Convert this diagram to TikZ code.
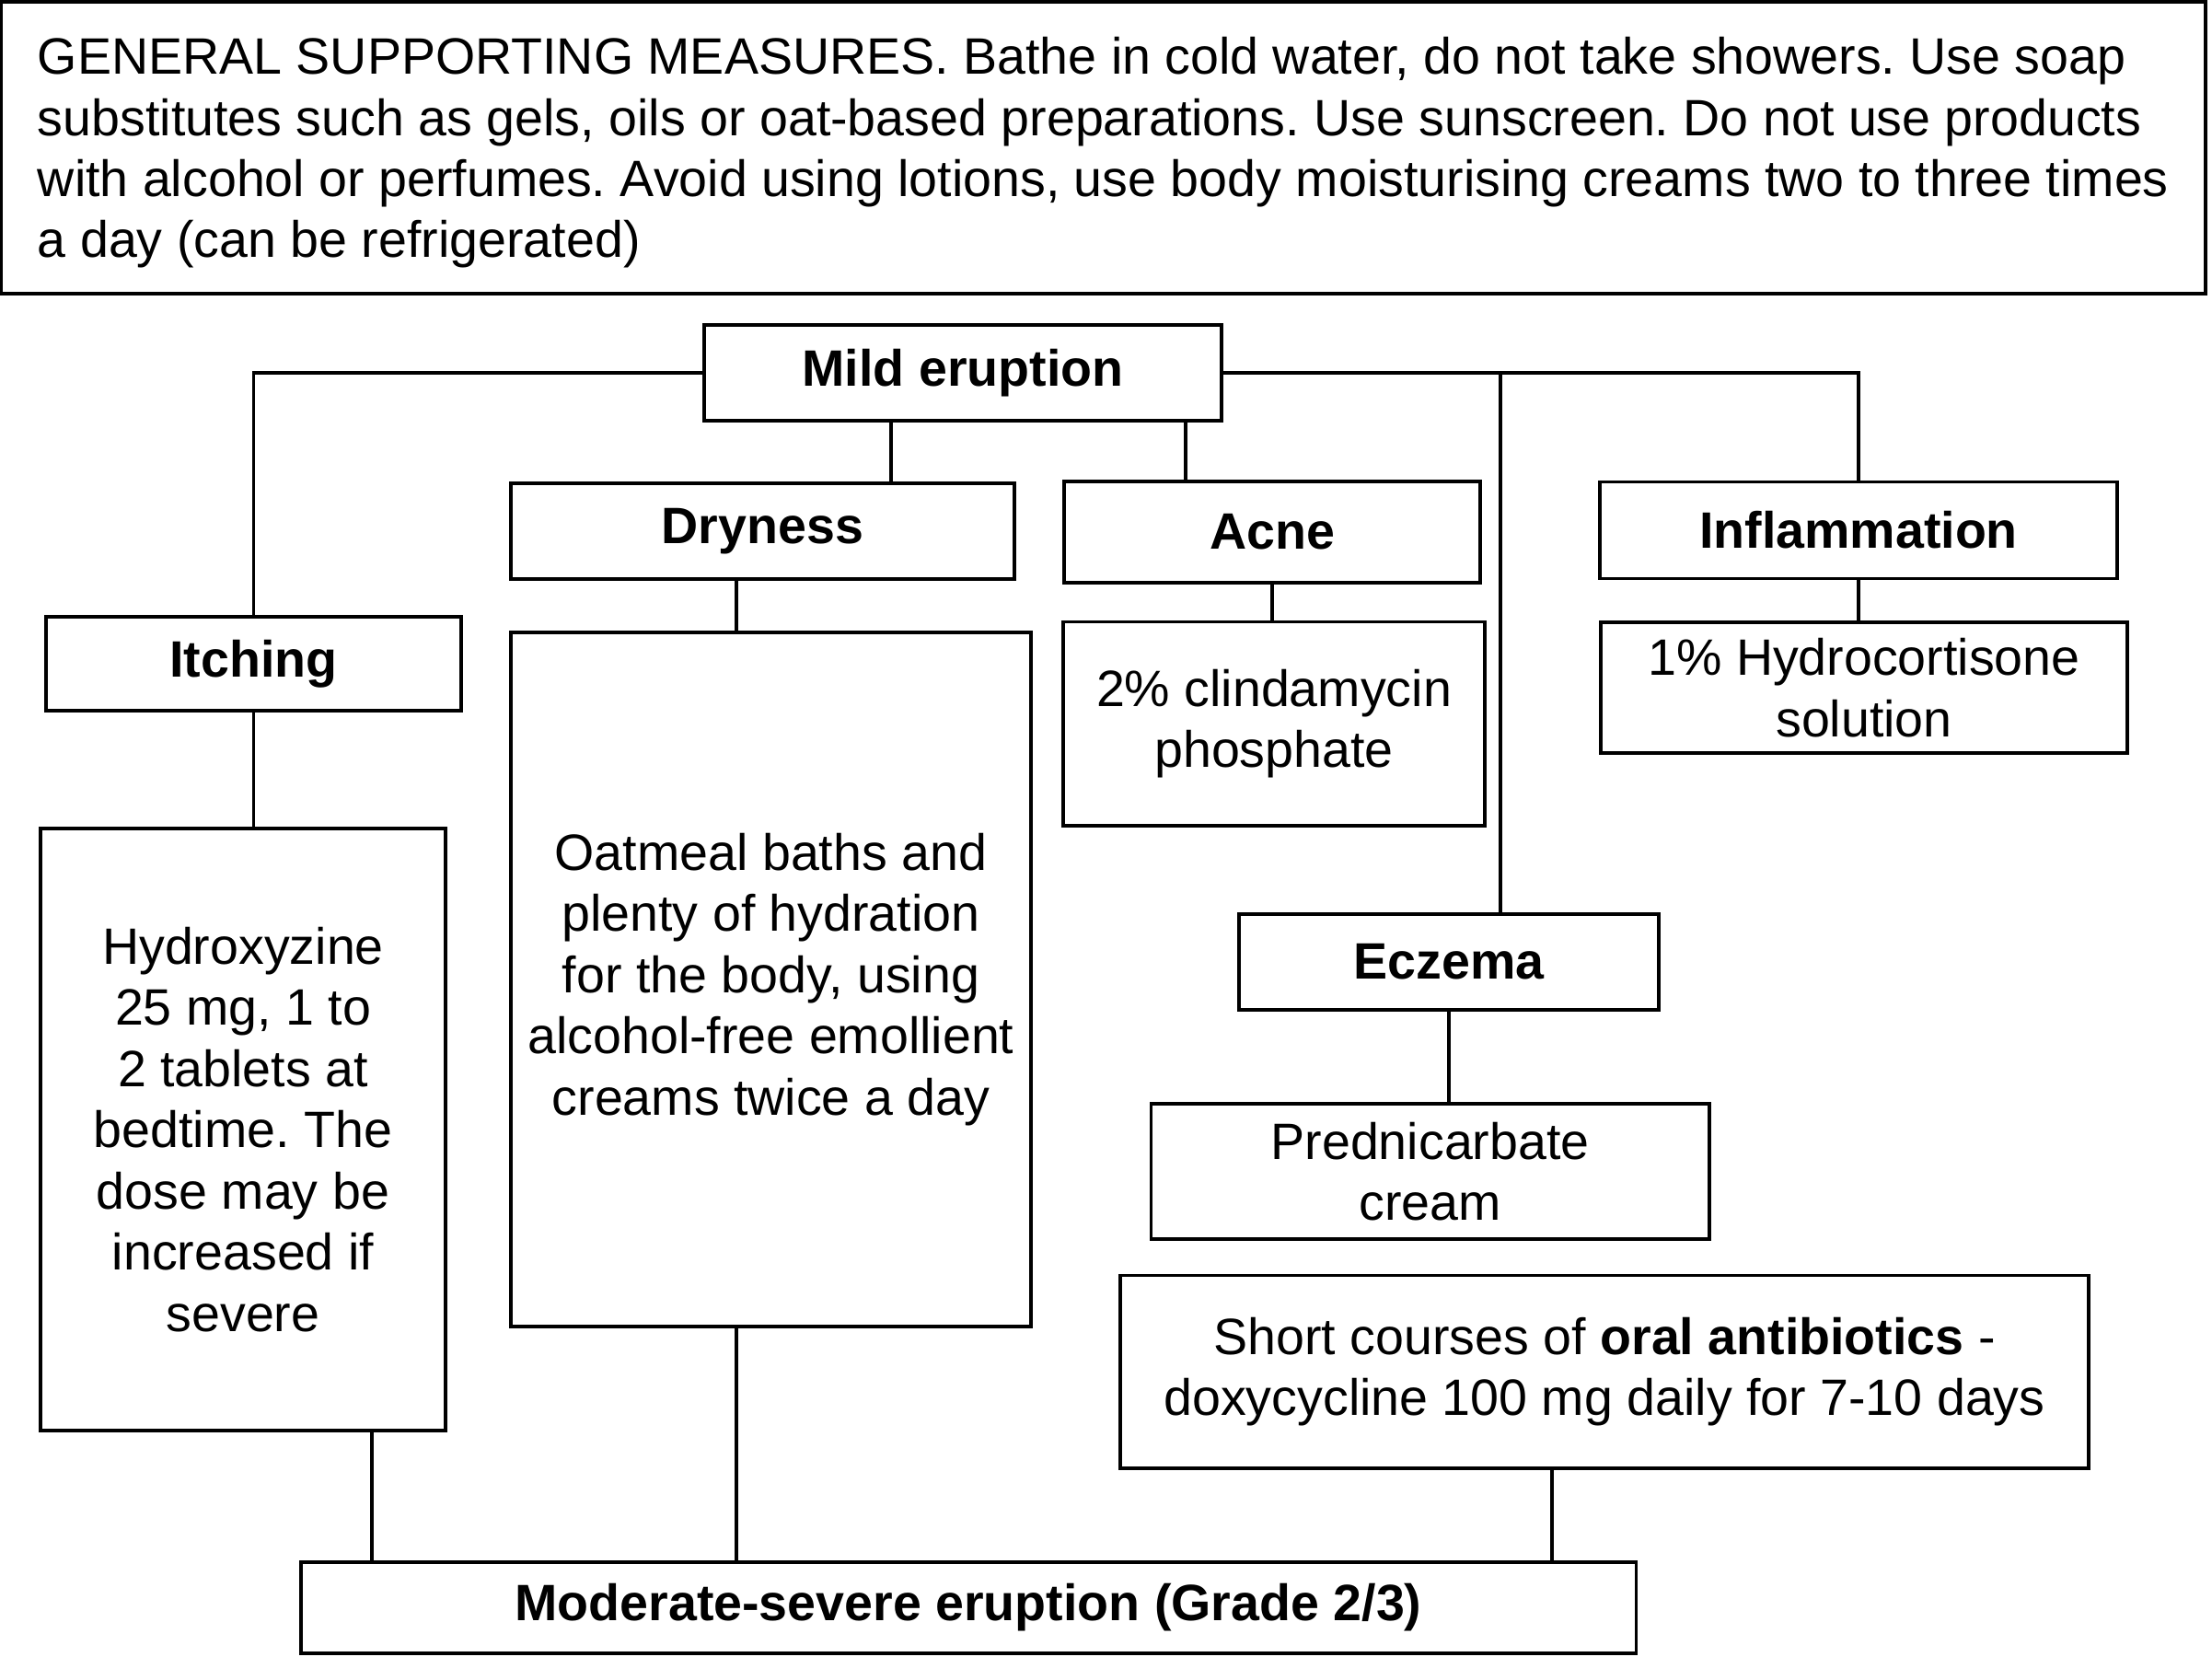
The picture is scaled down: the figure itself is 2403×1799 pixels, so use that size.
\documentclass[tikz,border=0pt]{standalone}
\usepackage{fontspec}
\setmainfont{Liberation Sans}
\usepackage{tikz}
\frenchspacing

\begin{document}
\begin{tikzpicture}[x=0.01cm,y=-0.01cm,line width=1.1pt,
  font=\fontsize{15.8}{18.9}\selectfont,
  box/.style={draw,rectangle,inner sep=0pt,align=center},
  head/.style={box,font=\fontsize{15.8}{18.9}\selectfont\bfseries}]
\useasboundingbox (0,0) rectangle (2403,1799);
\node[box,align=left,minimum width=23.93cm,minimum height=3.17cm] (general) at (1198.5,160.5)
  {\rule{0pt}{0.51cm}GENERAL SUPPORTING MEASURES. Bathe in cold water, do not take showers. Use soap\\
   substitutes such as gels, oils or oat-based preparations. Use sunscreen. Do not use products\\
   with alcohol or perfumes. Avoid using lotions, use body moisturising creams two to three times\\
   a day (can be refrigerated)};
\node[head,minimum width=5.62cm,minimum height=1.045cm] (mild) at (1046,405) {Mild eruption};
\node[head,minimum width=5.47cm,minimum height=1.036cm] (dryness) at (828.5,577) {Dryness};
\node[head,minimum width=4.52cm,minimum height=1.095cm] (acne) at (1382,578) {Acne};
\node[head,minimum width=5.61cm,minimum height=1.05cm] (inflam) at (2019,576) {Inflammation};
\node[head,minimum width=4.50cm,minimum height=1.015cm] (itching) at (275.5,721) {Itching};
\node[box,minimum width=4.39cm,minimum height=6.54cm] (hydrox) at (264,1227)
  {Hydroxyzine\\25 mg, 1 to\\2 tablets at\\bedtime. The\\dose may be\\increased if\\severe};
\node[box,minimum width=5.65cm,minimum height=7.54cm] (oatmeal) at (837.5,1064)
  {Oatmeal baths and\\plenty of hydration\\for the body, using\\alcohol-free emollient\\creams twice a day};
\node[box,minimum width=4.57cm,minimum height=2.21cm] (clinda) at (1384,786) {2\% clindamycin\\phosphate};
\node[box,minimum width=5.71cm,minimum height=1.42cm] (hydrocort) at (2025,747) {1\% Hydrocortisone\\solution};
\node[head,minimum width=4.56cm,minimum height=1.04cm] (eczema) at (1574,1045) {Eczema};
\node[box,minimum width=6.06cm,minimum height=1.47cm] (predni) at (1553.6,1272.6) {Prednicarbate\\cream};
\node[box,minimum width=10.51cm,minimum height=2.09cm] (antibio) at (1743,1490)
  {Short courses of \textbf{oral antibiotics} -\\doxycycline 100 mg daily for 7-10 days};
\node[head,minimum width=14.5cm,minimum height=0.99cm] (moderate) at (1052,1746.5) {Moderate-severe eruption (Grade 2/3)};
\coordinate (kdry) at (968,0);
\coordinate (kacne) at (1288,0);
\coordinate (koat) at (800,0);
\coordinate (khyd) at (404,0);
\coordinate (kecz) at (1630,0);
\coordinate (kabx) at (1686,0);
\draw (mild.west) -| (itching.north);
\draw (mild.east) -| (inflam.north);
\draw (mild.south -| kdry) -- (dryness.north -| kdry);
\draw (mild.south -| kacne) -- (acne.north -| kacne);
\draw (mild.east -| kecz) -- (eczema.north -| kecz);
\draw (itching.south) -- (itching.south |- hydrox.north);
\draw (dryness.south -| koat) -- (oatmeal.north -| koat);
\draw (acne.south) -- (acne.south |- clinda.north);
\draw (inflam.south) -- (inflam.south |- hydrocort.north);
\draw (eczema.south) -- (eczema.south |- predni.north);
\draw (hydrox.south -| khyd) -- (moderate.north -| khyd);
\draw (oatmeal.south -| koat) -- (moderate.north -| koat);
\draw (antibio.south -| kabx) -- (moderate.north -| kabx);
\end{tikzpicture}
\end{document}
